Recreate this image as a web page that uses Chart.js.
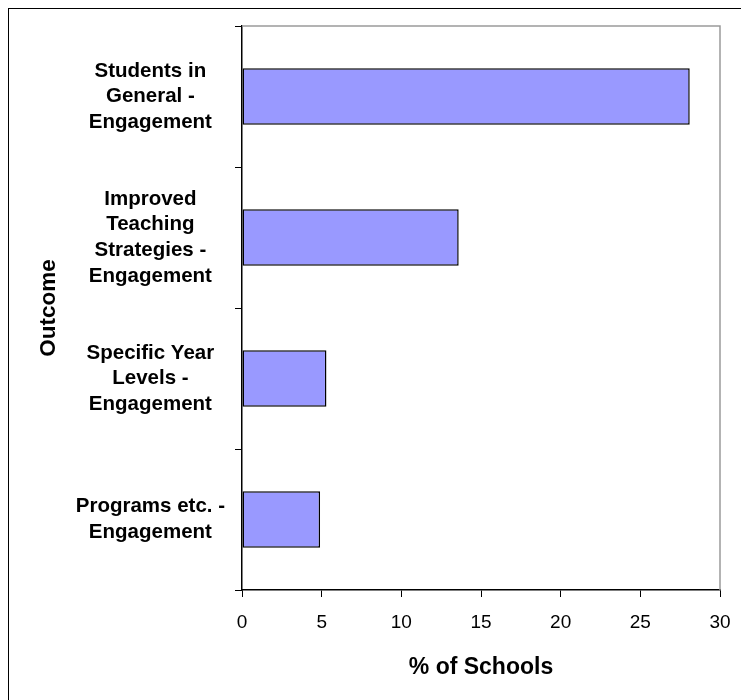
<!DOCTYPE html>
<html>
<head>
<meta charset="utf-8">
<title>Outcome - % of Schools</title>
<script src="https://cdn.jsdelivr.net/npm/chart.js@4"></script>
<style>
    html, body { margin: 0; padding: 0; background: #fff; overflow: hidden; }
    #frame { position: absolute; left: 8px; top: 8px; width: 900px; height: 900px; border: 1px solid #000; }
    #myChart { position: absolute; left: 0; top: 0; }
</style>
</head>
<body>
<div id="frame"></div>
<canvas id="myChart" width="741" height="700"></canvas>
<script>
// categories, top to bottom
var outcomes = [
    ["Students in", "General -", "Engagement"],
    ["Improved", "Teaching", "Strategies -", "Engagement"],
    ["Specific Year", "Levels -", "Engagement"],
    ["Programs etc. -", "Engagement"]
]
// % of schools per outcome
var percentSchools = [28.1, 13.6, 5.3, 4.9]
var xTicks = [0, 5, 10, 15, 20, 25, 30]

Chart.defaults.font.family = "'Liberation Sans', Arial, sans-serif";
Chart.defaults.color = "#000";

// grey plot area border on the top and right side
var plotFrame = {
    id: "plotFrame",
    afterDatasetsDraw: function (chart) {
        var ctx = chart.ctx;
        var a = chart.chartArea;
        ctx.save();
        ctx.strokeStyle = "#9a9a9a";
        ctx.lineWidth = 1.5;
        ctx.beginPath();
        ctx.moveTo(a.left, a.top);
        ctx.lineTo(a.right, a.top);
        ctx.lineTo(a.right, a.bottom);
        ctx.stroke();
        ctx.restore();
    }
}

var chart = new Chart("myChart", {
    type: "bar",
    data: {
        labels: outcomes,
        datasets: [{
            data: percentSchools,
            backgroundColor: "#9999ff",
            borderColor: "#000",
            borderWidth: 1.5,
            borderSkipped: false,
            barPercentage: 0.4,
            categoryPercentage: 1
        }]
    },
    options: {
        indexAxis: "y",
        responsive: false,
        animation: false,
        layout: { padding: { left: 20, top: 26, right: 21, bottom: 0 } },
        plugins: { legend: { display: false }, tooltip: { enabled: false } },
        scales: {
            x: {
                min: 0,
                max: 30,
                afterBuildTicks: function (axis) {
                    axis.ticks = xTicks.map(function (v) { return { value: v } });
                },
                afterFit: function (axis) {
                    axis.height = 110;
                    axis.paddingLeft = 0;
                    axis.paddingRight = 0;
                },
                grid: { drawOnChartArea: false, tickLength: 7, color: "#000", lineWidth: 1 },
                border: { color: "#000", width: 1.5 },
                ticks: { font: { size: 19 }, padding: 14, maxRotation: 0 },
                title: { display: true, text: "% of Schools", font: { size: 23, weight: "bold" }, padding: { top: 4, bottom: 19 } }
            },
            y: {
                afterFit: function (axis) {
                    axis.width = 222;
                    axis.paddingTop = 0;
                    axis.paddingBottom = 0;
                },
                grid: { offset: true, drawOnChartArea: false, tickLength: 7, color: "#000", lineWidth: 1 },
                border: { color: "#000", width: 1.5 },
                ticks: { font: { size: 20.5, weight: "bold", lineHeight: 1.25 }, padding: 10, crossAlign: "center" },
                title: { display: true, text: "Outcome", font: { size: 22.5, weight: "bold" }, padding: { top: 15, bottom: 4 } }
            }
        }
    },
    plugins: [plotFrame]
});
</script>
</body>
</html>
